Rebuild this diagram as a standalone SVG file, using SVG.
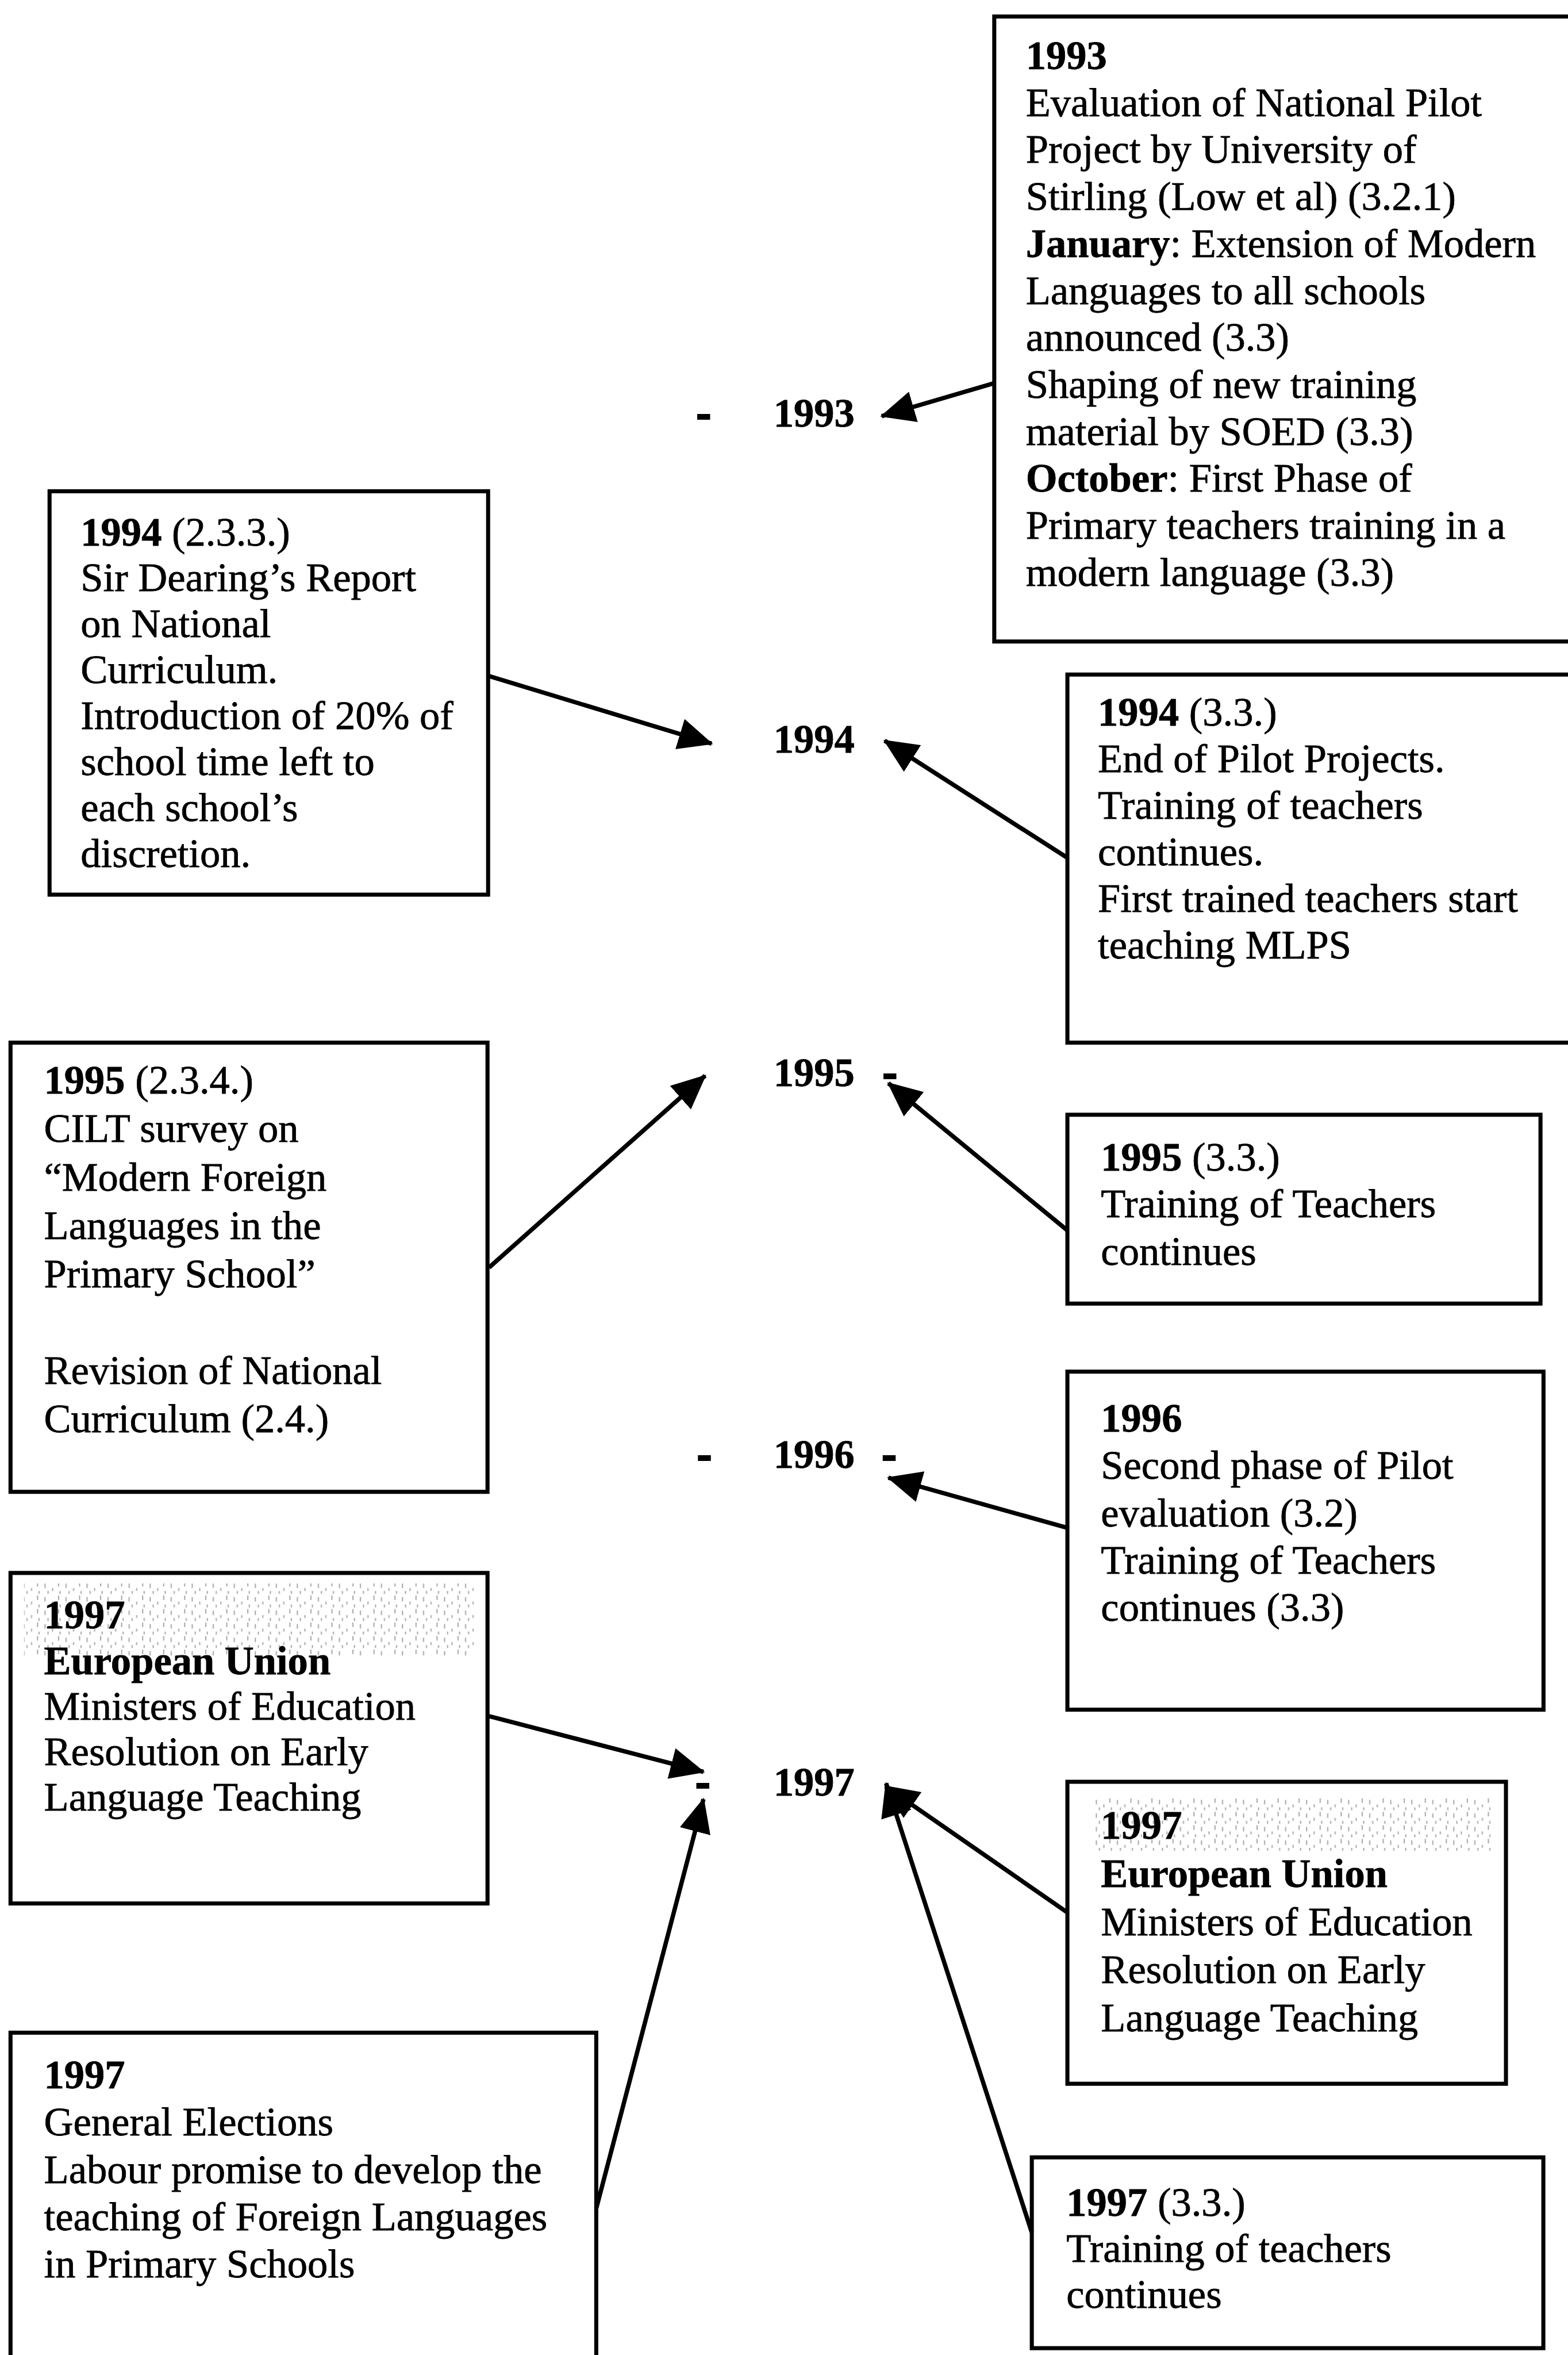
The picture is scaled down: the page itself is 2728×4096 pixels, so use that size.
<svg xmlns="http://www.w3.org/2000/svg" width="2728" height="4096" viewBox="0 0 2728 4096">
<defs>
<style>
.box{fill:none;stroke:#000;stroke-width:2.7}
.t{font-family:"Liberation Serif","Times New Roman",serif;font-size:27px;fill:#000;stroke:#000;stroke-width:0.3}
.b{font-weight:bold}
.dash{stroke-width:1.6}
.conn line{stroke:#000;stroke-width:2.9;marker-end:url(#ah)}
.spk{fill:url(#spk);opacity:0.85}
</style>
<marker id="ah" viewBox="0 0 23 21" refX="22" refY="10.5" markerWidth="23" markerHeight="21" markerUnits="userSpaceOnUse" orient="auto">
<path d="M0,0 L23,10.5 L0,21 z" fill="#000"/>
</marker>
<pattern id="spk" width="14" height="9" patternUnits="userSpaceOnUse">
<path d="M2,1 v3 M7,4 v2 M11,0 v3 M4,6 v2 M12,6 v2" stroke="#999" stroke-width="0.8"/>
</pattern>
</defs>
<rect width="2728" height="4096" fill="#fff"/>
<g transform="scale(2.613)">
<g id="years" class="t b">
<text class="dash" x="468.5" y="284" text-anchor="middle">-</text>
<text x="515" y="284">1993</text>
<text x="515" y="501">1994</text>
<text x="515" y="723">1995</text>
<text class="dash" x="592.5" y="723" text-anchor="middle">-</text>
<text class="dash" x="469" y="977" text-anchor="middle">-</text>
<text x="515" y="977">1996</text>
<text class="dash" x="592" y="977" text-anchor="middle">-</text>
<text class="dash" x="468" y="1195" text-anchor="middle">-</text>
<text x="515" y="1195">1997</text>
</g>
<g id="nodeA">
<rect class="box" x="662" y="11" width="390" height="416"/>
<text class="t">
<tspan x="683" y="46" class="b">1993</tspan>
<tspan x="683" y="77.3">Evaluation of National Pilot</tspan>
<tspan x="683" y="108.5">Project by University of</tspan>
<tspan x="683" y="139.8">Stirling (Low et al) (3.2.1)</tspan>
<tspan x="683" y="171.1"><tspan class="b">January</tspan>: Extension of Modern</tspan>
<tspan x="683" y="202.4">Languages to all schools</tspan>
<tspan x="683" y="233.6">announced (3.3)</tspan>
<tspan x="683" y="264.9">Shaping of new training</tspan>
<tspan x="683" y="296.2">material by SOED (3.3)</tspan>
<tspan x="683" y="327.4"><tspan class="b">October</tspan>: First Phase of</tspan>
<tspan x="683" y="358.7">Primary teachers training in a</tspan>
<tspan x="683" y="390">modern language (3.3)</tspan>
</text>
</g>
<g id="nodeB">
<rect class="box" x="33" y="327" width="292" height="268.5"/>
<text class="t">
<tspan x="53.7" y="363"><tspan class="b">1994</tspan> (2.3.3.)</tspan>
<tspan x="53.7" y="393.6">Sir Dearing’s Report</tspan>
<tspan x="53.7" y="424.2">on National</tspan>
<tspan x="53.7" y="454.8">Curriculum.</tspan>
<tspan x="53.7" y="485.4">Introduction of 20% of</tspan>
<tspan x="53.7" y="516">school time left to</tspan>
<tspan x="53.7" y="546.6">each school’s</tspan>
<tspan x="53.7" y="577.2">discretion.</tspan>
</text>
</g>
<g id="nodeC">
<rect class="box" x="710.7" y="449" width="340" height="245"/>
<text class="t">
<tspan x="731" y="483"><tspan class="b">1994</tspan> (3.3.)</tspan>
<tspan x="731" y="514">End of Pilot Projects.</tspan>
<tspan x="731" y="545">Training of teachers</tspan>
<tspan x="731" y="576">continues.</tspan>
<tspan x="731" y="607">First trained teachers start</tspan>
<tspan x="731" y="638">teaching MLPS</tspan>
</text>
</g>
<g id="nodeD">
<rect class="box" x="7" y="694" width="317.6" height="299"/>
<text class="t">
<tspan x="29.3" y="728"><tspan class="b">1995</tspan> (2.3.4.)</tspan>
<tspan x="29.3" y="760.2">CILT survey on</tspan>
<tspan x="29.3" y="792.4">“Modern Foreign</tspan>
<tspan x="29.3" y="824.6">Languages in the</tspan>
<tspan x="29.3" y="856.8">Primary School”</tspan>
<tspan x="29.3" y="921.2">Revision of National</tspan>
<tspan x="29.3" y="953.4">Curriculum (2.4.)</tspan>
</text>
</g>
<g id="nodeE">
<rect class="box" x="710.7" y="742" width="315" height="125.7"/>
<text class="t">
<tspan x="733" y="779"><tspan class="b">1995</tspan> (3.3.)</tspan>
<tspan x="733" y="810">Training of Teachers</tspan>
<tspan x="733" y="842">continues</tspan>
</text>
</g>
<g id="nodeF">
<rect class="box" x="710.7" y="913" width="317" height="225"/>
<text class="t">
<tspan x="733" y="953" class="b">1996</tspan>
<tspan x="733" y="984.5">Second phase of Pilot</tspan>
<tspan x="733" y="1016">evaluation (3.2)</tspan>
<tspan x="733" y="1047.5">Training of Teachers</tspan>
<tspan x="733" y="1079">continues (3.3)</tspan>
</text>
</g>
<g id="nodeG">
<rect class="box" x="7" y="1047" width="317.6" height="220"/>
<rect class="spk" x="16" y="1054" width="300" height="48"/>
<text class="t">
<tspan x="29.3" y="1084" class="b">1997</tspan>
<tspan x="29.3" y="1114.3" class="b">European Union</tspan>
<tspan x="29.3" y="1144.6">Ministers of Education</tspan>
<tspan x="29.3" y="1174.9">Resolution on Early</tspan>
<tspan x="29.3" y="1205.2">Language Teaching</tspan>
</text>
</g>
<g id="nodeH">
<rect class="box" x="7" y="1353" width="390" height="230"/>
<text class="t">
<tspan x="29.3" y="1390" class="b">1997</tspan>
<tspan x="29.3" y="1421.5">General Elections</tspan>
<tspan x="29.3" y="1453">Labour promise to develop the</tspan>
<tspan x="29.3" y="1484.5">teaching of Foreign Languages</tspan>
<tspan x="29.3" y="1516">in Primary Schools</tspan>
</text>
</g>
<g id="nodeI">
<rect class="box" x="710.7" y="1186" width="292" height="201"/>
<rect class="spk" x="727" y="1196" width="268" height="36"/>
<text class="t">
<tspan x="733" y="1224" class="b">1997</tspan>
<tspan x="733" y="1256" class="b">European Union</tspan>
<tspan x="733" y="1288">Ministers of Education</tspan>
<tspan x="733" y="1320">Resolution on Early</tspan>
<tspan x="733" y="1352">Language Teaching</tspan>
</text>
</g>
<g id="nodeJ">
<rect class="box" x="687" y="1436" width="340.6" height="127"/>
<text class="t">
<tspan x="710" y="1475"><tspan class="b">1997</tspan> (3.3.)</tspan>
<tspan x="710" y="1505.5">Training of teachers</tspan>
<tspan x="710" y="1536">continues</tspan>
</text>
</g>
<g id="connectors" class="conn">
<line x1="662" y1="255" x2="587" y2="277"/>
<line x1="325.6" y1="450" x2="473.8" y2="495"/>
<line x1="710.7" y1="571" x2="589" y2="493"/>
<line x1="325.6" y1="843.7" x2="469.5" y2="716"/>
<line x1="710.7" y1="819" x2="591.5" y2="721"/>
<line x1="710.7" y1="1017" x2="591.5" y2="983.6"/>
<line x1="325.6" y1="1142.3" x2="468.4" y2="1179.4"/>
<line x1="397" y1="1470" x2="468.4" y2="1197.6"/>
<line x1="710.7" y1="1273" x2="589.5" y2="1189"/>
<line x1="687" y1="1486" x2="590" y2="1187"/>
</g>
</g>
</svg>
